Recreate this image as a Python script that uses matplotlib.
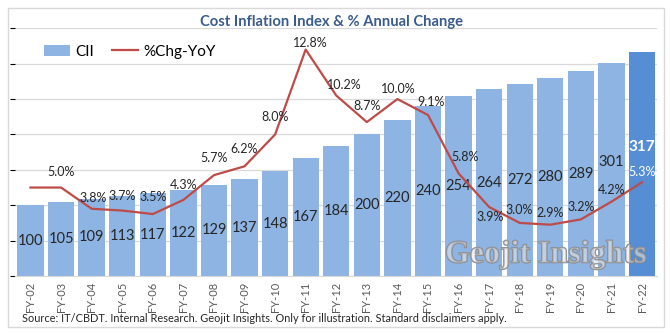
import numpy as np
import matplotlib.pyplot as plt
import matplotlib.patheffects as pe
from matplotlib.patches import Patch, Rectangle
from matplotlib.lines import Line2D

plt.rcParams['font.family'] = ['Lato', 'DejaVu Sans']

years = ['FY-02', 'FY-03', 'FY-04', 'FY-05', 'FY-06', 'FY-07', 'FY-08', 'FY-09', 'FY-10', 'FY-11',
         'FY-12', 'FY-13', 'FY-14', 'FY-15', 'FY-16', 'FY-17', 'FY-18', 'FY-19', 'FY-20', 'FY-21', 'FY-22']
cii = [100, 105, 109, 113, 117, 122, 129, 137, 148, 167, 184, 200, 220, 240, 254, 264, 272, 280, 289, 301, 317]
# FY-02 is the base year, line starts flat at the FY-03 level (no label)
chg = [5.0, 5.0, 3.8, 3.7, 3.5, 4.3, 5.7, 6.2, 8.0, 12.8, 10.2, 8.7, 10.0, 9.1, 5.8, 3.9, 3.0, 2.9, 3.2, 4.2, 5.3]

# label nudges in pixels (dx, dy) for the % labels
pct_off = [None, (0, 16), (2, 11), (0, 15), (0, 17), (0, 15), (0, 17), (0, 17), (0, 17), (5, 7),
           (8, 11), (0, 16), (1, 10), (3, 13), (6, 16), (1, -10), (-1, 13), (0, 12), (0, 12), (0, 12), (0, 10)]
bar_off = {19: 7, 20: 17}

bar_col = '#8DB4E2'
last_col = '#558ED5'
line_col = '#BE4B48'
txt_col = '#262626'

fig = plt.figure(figsize=(6.7, 3.34), dpi=100)
fig.patches.append(Rectangle((8 / 670, 1 - 327 / 334), 656 / 670, 319 / 334, transform=fig.transFigure,
                             fill=False, edgecolor='#D9D9D9', lw=1.0))

ax = fig.add_axes([15.2 / 670, 58 / 334, 642.1 / 670, 247.7 / 334])
x = np.arange(len(years))
colors = [bar_col] * (len(years) - 1) + [last_col]
ax.bar(x, cii, width=0.86, color=colors, zorder=2)
ax.set_xlim(-0.5, len(years) - 0.5)
ax.set_ylim(0, 350)
ax.set_yticks(range(0, 351, 50))
ax.yaxis.grid(True, color='#D9D9D9', lw=0.9)
ax.set_axisbelow(True)
ax.tick_params(axis='y', left=False, labelleft=False)
ax.set_xticks(x)
ax.set_xticklabels(years, rotation=90, fontsize=8, color='#595959')
ax.tick_params(axis='x', length=0, pad=4)
for s in ['top', 'left', 'right']:
    ax.spines[s].set_visible(False)
ax.spines['bottom'].set_color('#D9D9D9')

for i, v in enumerate(cii):
    last = i == len(cii) - 1
    ax.annotate(str(v), (i, v / 2), xytext=(0, bar_off.get(i, 0)), textcoords='offset pixels',
                ha='center', va='center', fontsize=11 if last else 10.5,
                color='white' if last else txt_col, fontweight='bold' if last else 'normal', zorder=5)

ax2 = ax.twinx()
ax2.plot(x, chg, color=line_col, lw=1.6, zorder=3)
ax2.set_ylim(0, 14)
ax2.set_yticks([])
for s in ax2.spines.values():
    s.set_visible(False)

for i, v in enumerate(chg):
    if pct_off[i] is None:
        continue
    ax2.annotate(f'{v:.1f}%', (i, v), xytext=pct_off[i], textcoords='offset pixels',
                 ha='center', va='center', fontsize=9,
                 color='white' if i == len(chg) - 1 else txt_col, zorder=6)

handles = [Patch(facecolor=bar_col), Line2D([0], [0], color=line_col, lw=1.6)]
ax2.legend(handles, ['CII', '%Chg-YoY'], loc='center left', bbox_to_anchor=(44 / 670, 1 - 51.7 / 334),
           bbox_transform=fig.transFigure, ncol=2, frameon=False, fontsize=11, borderpad=0,
           borderaxespad=0, handlelength=1.7, handletextpad=0.35, columnspacing=1.2)

fig.text(332 / 670, 1 - 21.7 / 334, 'Cost Inflation Index & % Annual Change', ha='center', va='center',
         fontsize=10.6, fontweight='bold', color='#3A5C8C')
fig.text(21.7 / 670, 1 - 318 / 334,
         'Source: IT/CBDT. Internal Research. Geojit Insights. Only for illustration. Standard disclaimers apply.',
         ha='left', va='center', fontsize=7.9, color=txt_col)

# watermark: pale fill with grey outline
fig.text(546 / 670, 1 - 255 / 334, 'Geojit Insights', ha='center', va='center', family='Liberation Serif',
         fontweight='bold', fontsize=23, color=(0.9, 0.9, 0.92, 0.35), zorder=10,
         path_effects=[pe.withStroke(linewidth=1.1, foreground='#8A8A8A')])

fig.savefig('out.png', dpi=100)
